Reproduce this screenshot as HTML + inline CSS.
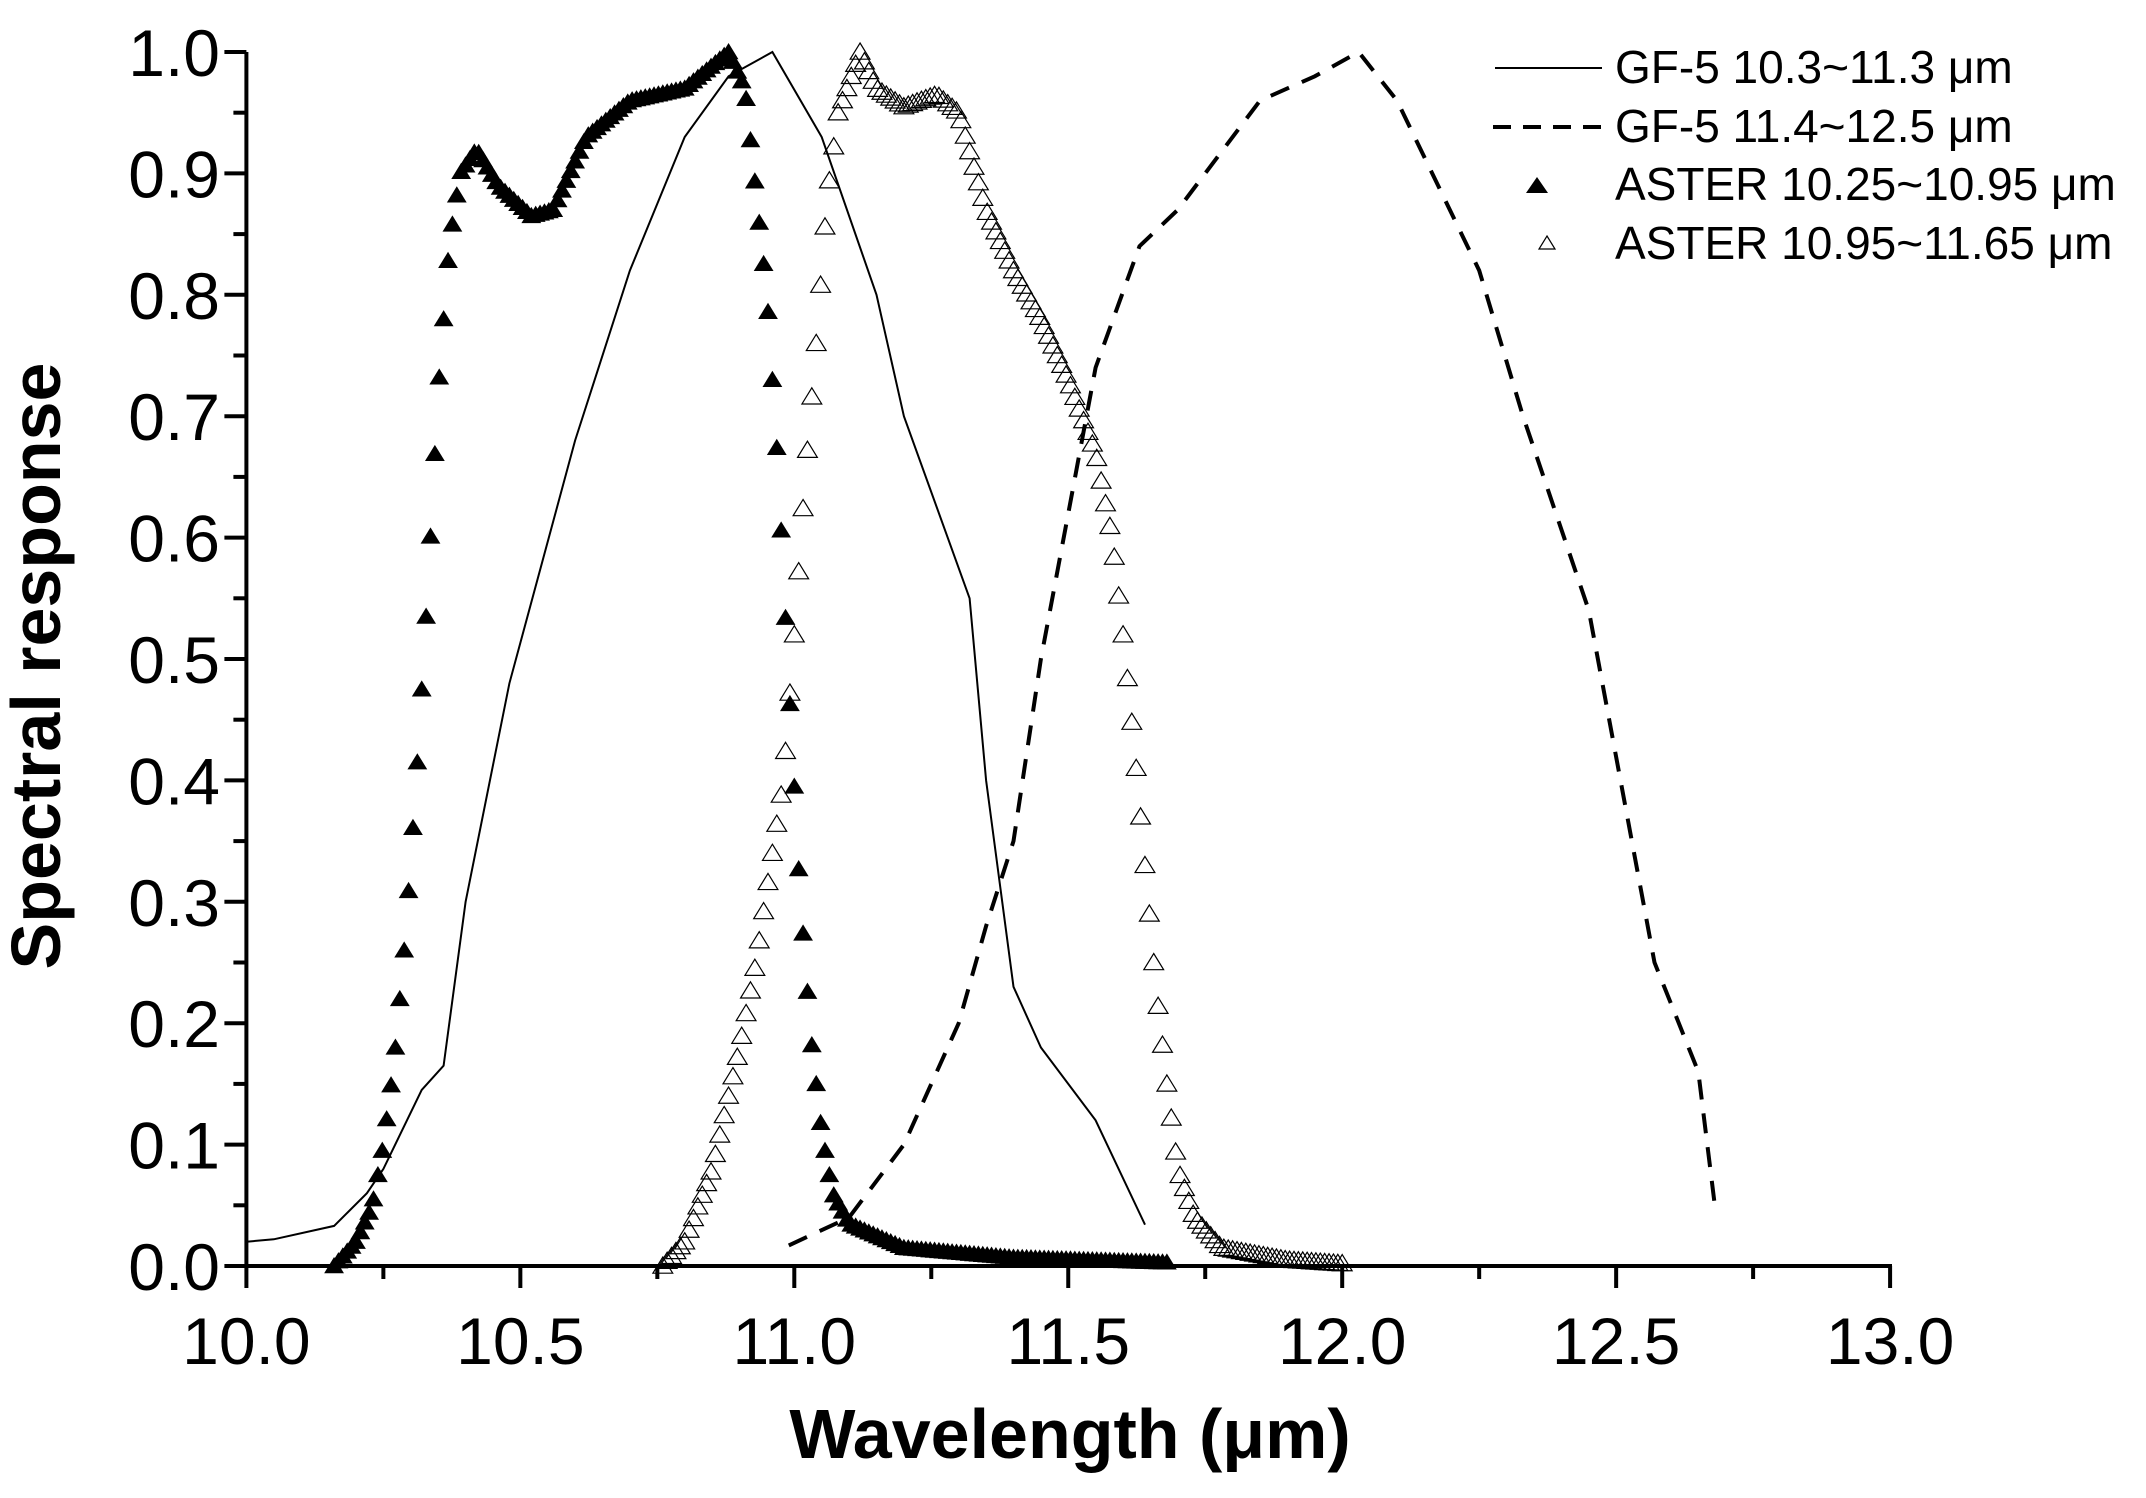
<!DOCTYPE html>
<html><head><meta charset="utf-8"><style>
html,body{margin:0;padding:0;background:#fff;}
svg{display:block;}
text{font-family:"Liberation Sans",Arial,sans-serif;fill:#000;}
</style></head><body>
<svg id="s" width="2146" height="1498" viewBox="0 0 2146 1498" xmlns="http://www.w3.org/2000/svg">
<rect width="2146" height="1498" fill="#fff"/>
<g id="g"></g>
<text x="1615" y="83" font-size="46">GF-5 10.3~11.3 μm</text>
<text x="1615" y="142" font-size="46">GF-5 11.4~12.5 μm</text>
<text x="1615" y="200" font-size="46">ASTER 10.25~10.95 μm</text>
<text x="1615" y="259" font-size="46">ASTER 10.95~11.65 μm</text>
<line x1="1495" y1="68" x2="1602" y2="68" stroke="#000" stroke-width="2"/>
<line x1="1493" y1="127" x2="1602" y2="127" stroke="#000" stroke-width="4" stroke-dasharray="18,12"/>
<polygon points="1537,177 1548,193 1526,193" fill="#000"/>
<polygon points="1547,236 1555,249 1539,249" fill="none" stroke="#000" stroke-width="1.2"/>
<text x="1070" y="1458" font-size="70" font-weight="bold" text-anchor="middle">Wavelength (μm)</text>
<text transform="translate(60,666) rotate(-90)" font-size="70" font-weight="bold" text-anchor="middle">Spectral response</text>
</svg>
<script>
var g=document.getElementById('g'),NS='http://www.w3.org/2000/svg';
function X(w){return 246.4+(w-10)*547.9;}
function Y(r){return 1266-r*1214;}
function el(n,a){var e=document.createElementNS(NS,n);for(var k in a)e.setAttribute(k,a[k]);g.appendChild(e);return e;}
function txt(x,y,s,anc){var e=el('text',{x:x,y:y,'font-size':66,'text-anchor':anc});e.textContent=s;}
el('line',{x1:246.4,y1:52,x2:246.4,y2:1268,stroke:'#000','stroke-width':4});
el('line',{x1:244,y1:1266,x2:1892,y2:1266,stroke:'#000','stroke-width':4});
for(var i=0;i<=12;i++){var x=X(10+i*0.25);var L=i%2==0?22:13;el('line',{x1:x,y1:1266,x2:x,y2:1266+L,stroke:'#000','stroke-width':4});if(i%2==0)txt(x,1364,(10+i*0.25).toFixed(1),'middle');}
for(var i=0;i<=20;i++){var y=Y(i*0.05);var L=i%2==0?22:13;el('line',{x1:246.4-L,y1:y,x2:246.4,y2:y,stroke:'#000','stroke-width':4});if(i%2==0)txt(220,y+24,(i*0.05).toFixed(1),'end');}
function pts(a){return a.map(function(p){return X(p[0]).toFixed(1)+','+Y(p[1]).toFixed(1)}).join(' ');}
var gf1=[[10,0.02],[10.05,0.022],[10.16,0.033],[10.22,0.06],[10.25,0.08],[10.32,0.145],[10.36,0.165],[10.4,0.3],[10.48,0.48],[10.6,0.68],[10.7,0.82],[10.8,0.93],[10.88,0.98],[10.96,1.0],[11.05,0.93],[11.15,0.8],[11.2,0.7],[11.32,0.55],[11.35,0.4],[11.4,0.23],[11.45,0.18],[11.55,0.12],[11.64,0.034]];
el('polyline',{points:pts(gf1),fill:'none',stroke:'#000','stroke-width':2});
var gf2=[[10.99,0.017],[11.1,0.04],[11.2,0.1],[11.3,0.2],[11.35,0.28],[11.4,0.35],[11.45,0.5],[11.5,0.62],[11.55,0.74],[11.63,0.84],[11.7,0.87],[11.85,0.96],[11.95,0.98],[12.03,1.0],[12.1,0.96],[12.25,0.82],[12.33,0.7],[12.45,0.54],[12.57,0.25],[12.65,0.16],[12.68,0.05]];
el('polyline',{points:pts(gf2),fill:'none',stroke:'#000','stroke-width':4,'stroke-dasharray':'20,14'});
function interp(a,w){for(var i=0;i<a.length-1;i++){if(w>=a[i][0]&&w<=a[i+1][0]){var t=(w-a[i][0])/(a[i+1][0]-a[i][0]);return a[i][1]+t*(a[i+1][1]-a[i][1]);}}return 0;}
var a1=[[10.16,0],[10.2,0.02],[10.23,0.05],[10.25,0.1],[10.27,0.17],[10.29,0.27],[10.31,0.4],[10.33,0.55],[10.35,0.72],[10.37,0.84],[10.39,0.9],[10.42,0.92],[10.46,0.89],[10.52,0.865],[10.56,0.87],[10.62,0.93],[10.7,0.96],[10.8,0.97],[10.88,1.0],[10.91,0.97],[10.95,0.8],[10.97,0.66],[10.99,0.48],[11.01,0.31],[11.03,0.19],[11.05,0.11],[11.07,0.06],[11.1,0.035],[11.2,0.015],[11.4,0.007],[11.68,0.003]];
var a2=[[10.76,0],[10.8,0.02],[10.85,0.08],[10.9,0.18],[10.93,0.25],[10.96,0.34],[10.98,0.4],[11.0,0.52],[11.02,0.65],[11.04,0.76],[11.06,0.88],[11.08,0.95],[11.12,1.0],[11.15,0.97],[11.2,0.955],[11.26,0.965],[11.3,0.95],[11.35,0.87],[11.4,0.82],[11.45,0.78],[11.5,0.73],[11.55,0.67],[11.58,0.6],[11.6,0.52],[11.62,0.43],[11.64,0.33],[11.66,0.23],[11.68,0.15],[11.7,0.08],[11.73,0.04],[11.78,0.015],[11.9,0.005],[12.0,0.002]];
function tri(x,y,fill){var s=9;el('polygon',{points:(x)+','+(y-s)+' '+(x+s*1.1)+','+(y+s*0.8)+' '+(x-s*1.1)+','+(y+s*0.8),fill:fill?'#000':'none',stroke:'#000','stroke-width':fill?0:1.2});}
for(var w=10.16;w<=11.68;w+=0.008){tri(X(w),Y(interp(a1,w)),true);}
for(var w=10.76;w<=12.0;w+=0.008){tri(X(w),Y(interp(a2,w)),false);}
</script>
</body></html>
